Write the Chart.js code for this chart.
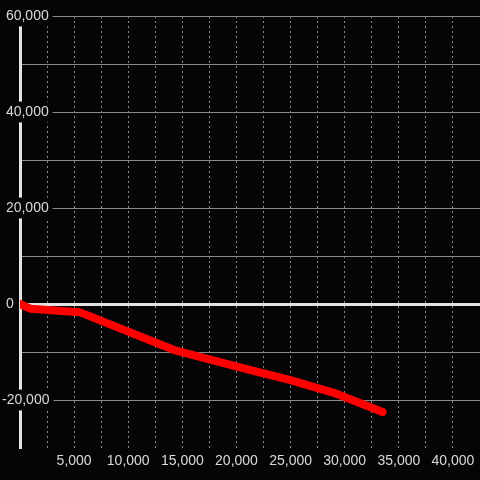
<!DOCTYPE html>
<html lang="en">
    <head>
        <meta charset="utf-8">
        <title>Line chart</title>
        <script type="text/javascript" src="https://cdn.jsdelivr.net/npm/chart.js@4.4.1/dist/chart.umd.min.js"></script>
        <style>
            body { margin: 0; background: #050508; }
        </style>
    </head>
    <body>
        <canvas id="chartLine" width="480" height="480"></canvas>

        <script type="text/javascript">
        // values
        const xValues = [0, 1000, 5500, 14250, 21200, 24900, 29000, 33500];
        const yValues = [0, -1000, -1700, -9600, -13700, -15800, -18500, -22500];

        // axis ranges and labelled ticks
        const xMin = 0, xMax = 42500, xStep = 2500;
        const xTickLabels = [5000, 10000, 15000, 20000, 25000, 30000, 35000, 40000];
        const yMin = -30000, yMax = 60000, yStep = 10000;
        const yTickLabels = [60000, 40000, 20000, 0, -20000];

        const bg = '#050508';
        const gridColor = '#8a8a8a';
        const axisColor = '#e4e4e4';
        const textColor = '#dadada';
        const fontFamily = 'Liberation Sans, Arial, sans-serif';

        function fmt(v) {
            return Math.abs(v).toLocaleString('en-US');
        }

        const bgPlugin = {
            id: 'bg',
            beforeDraw(chart) {
                const c = chart.ctx;
                c.save();
                c.fillStyle = bg;
                c.fillRect(0, 0, chart.width, chart.height);
                c.restore();
            }
        };

        // y labels sit across the axis line with a dark box behind them
        const yLabelPlugin = {
            id: 'yLabels',
            beforeDatasetsDraw(chart) {
                const s = chart.scales.y;
                const c = chart.ctx;
                c.save();
                c.font = '14px ' + fontFamily;
                c.textAlign = 'left';
                c.textBaseline = 'middle';
                s.ticks.forEach(function (t) {
                    if (yTickLabels.indexOf(t.value) < 0) return;
                    const label = (t.value < 0 ? '-' : ' ') + fmt(t.value);
                    const y = s.getPixelForValue(t.value);
                    const w = c.measureText(label).width;
                    c.fillStyle = bg;
                    c.fillRect(0, y - 10.4, w + 6, 20.8);
                    c.fillStyle = textColor;
                    c.fillText(label, 2, y);
                });
                c.restore();
            }
        };

        const points = xValues.map(function (x, i) { return {x: x, y: yValues[i]}; });

        const ctx = document.getElementById('chartLine').getContext('2d');
        const myChart = new Chart(ctx, {
            type: 'line',
            data: {
                datasets: [{
                    data: points,
                    borderColor: '#ff0000',
                    borderWidth: 8,
                    borderCapStyle: 'round',
                    borderJoinStyle: 'round',
                    pointRadius: 0,
                    tension: 0,
                    fill: false
                }]
            },
            options: {
                responsive: false,
                animation: false,
                layout: { padding: { top: 16, left: 2, right: 0, bottom: 0 } },
                plugins: { legend: { display: false }, tooltip: { enabled: false } },
                scales: {
                    x: {
                        type: 'linear',
                        min: xMin,
                        max: xMax,
                        afterFit: function (s) { s.height = 32; s.paddingRight = 0; s.paddingLeft = 0; },
                        border: { display: false, dash: [2, 3] },
                        grid: {
                            drawTicks: false,
                            lineWidth: 1,
                            color: function (c) {
                                const v = c.tick ? c.tick.value : 0;
                                if (v === 0 || v === xMax) return 'transparent';
                                return gridColor;
                            }
                        },
                        ticks: {
                            stepSize: xStep,
                            padding: 5,
                            color: textColor,
                            font: { family: fontFamily, size: 14 },
                            maxRotation: 0,
                            autoSkip: false,
                            callback: function (v) {
                                return xTickLabels.indexOf(v) < 0 ? '' : fmt(v);
                            }
                        }
                    },
                    y: {
                        type: 'linear',
                        min: yMin,
                        max: yMax,
                        afterFit: function (s) { s.width = 18; },
                        border: { display: true, color: axisColor, width: 3 },
                        grid: {
                            drawTicks: false,
                            lineWidth: function (c) { return c.tick && c.tick.value === 0 ? 3 : 1; },
                            color: function (c) {
                                const v = c.tick ? c.tick.value : 0;
                                if (v === yMin) return 'transparent';
                                if (v === 0) return axisColor;
                                return gridColor;
                            }
                        },
                        ticks: {
                            stepSize: yStep,
                            display: false
                        }
                    }
                }
            },
            plugins: [bgPlugin, yLabelPlugin]
        });
        </script>
    </body>
</html>
